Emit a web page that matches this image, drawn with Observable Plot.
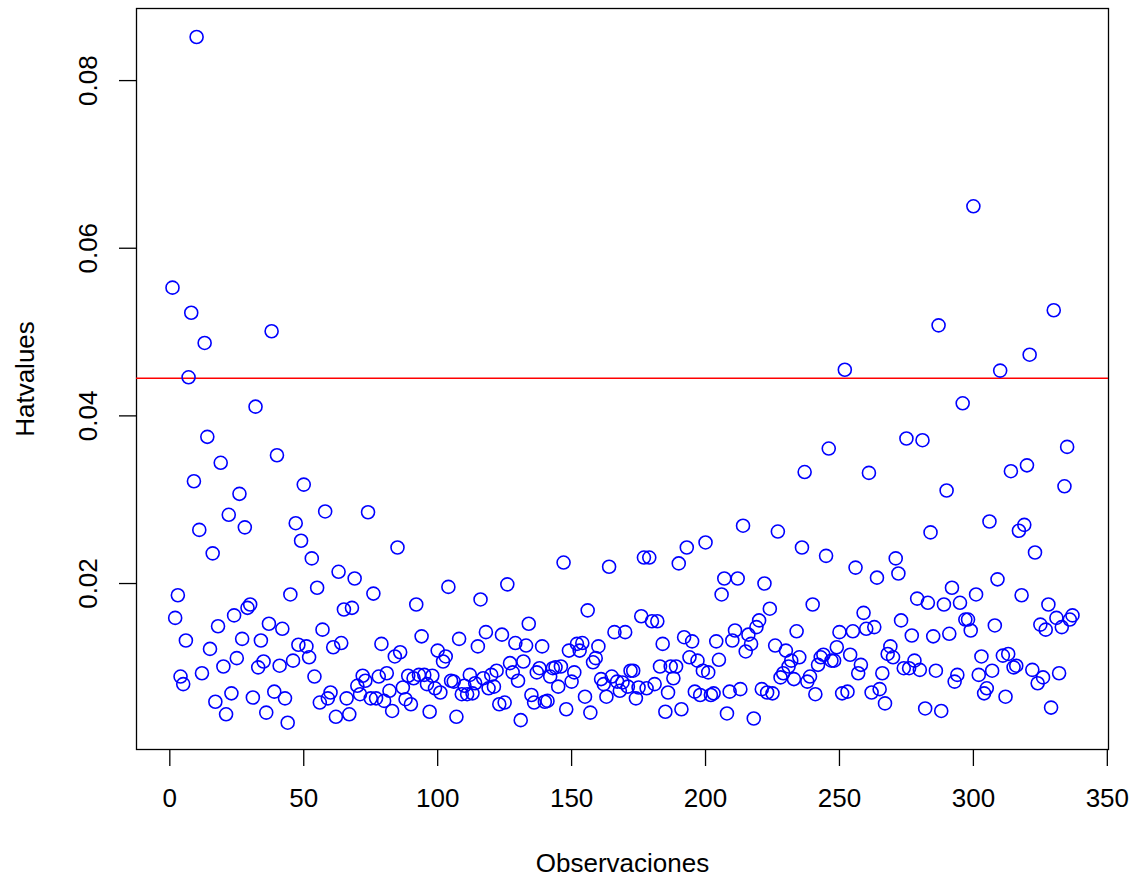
<!DOCTYPE html>
<html>
<head>
<meta charset="utf-8">
<script src="https://cdn.jsdelivr.net/npm/d3@7"></script>
<script src="https://cdn.jsdelivr.net/npm/@observablehq/plot@0.6"></script>
<style>
  html, body { margin: 0; padding: 0; background: #fff; }
  #chart svg { font-family: "Liberation Sans", Arial, Helvetica, sans-serif; background: #fff; display: block; }
</style>
</head>
<body>
<div id="chart"></div>
<script>
const hatvalues = [
  0.0553, 0.0159, 0.0186, 0.0089, 0.0080, 0.0132, 0.0446, 0.0523, 0.0322, 0.0852,
  0.0264, 0.0093, 0.0487, 0.0375, 0.0122, 0.0236, 0.0059, 0.0149, 0.0344, 0.0101,
  0.0044, 0.0282, 0.0069, 0.0162, 0.0111, 0.0307, 0.0134, 0.0267, 0.0171, 0.0175,
  0.0064, 0.0411, 0.0100, 0.0132, 0.0107, 0.0046, 0.0152, 0.0501, 0.0071, 0.0353,
  0.0102, 0.0146, 0.0063, 0.0034, 0.0187, 0.0108, 0.0272, 0.0127, 0.0251, 0.0318,
  0.0125, 0.0112, 0.0230, 0.0089, 0.0195, 0.0058, 0.0145, 0.0286, 0.0063, 0.0070,
  0.0124, 0.0041, 0.0214, 0.0129, 0.0169, 0.0063, 0.0044, 0.0171, 0.0206, 0.0078,
  0.0068, 0.0090, 0.0084, 0.0285, 0.0063, 0.0188, 0.0063, 0.0089, 0.0128, 0.0060,
  0.0093, 0.0072, 0.0048, 0.0113, 0.0243, 0.0118, 0.0076, 0.0062, 0.0090, 0.0056,
  0.0087, 0.0175, 0.0091, 0.0137, 0.0091, 0.0080, 0.0047, 0.0090, 0.0075, 0.0120,
  0.0070, 0.0107, 0.0113, 0.0196, 0.0084, 0.0083, 0.0041, 0.0134, 0.0068, 0.0078,
  0.0068, 0.0091, 0.0069, 0.0081, 0.0125, 0.0181, 0.0087, 0.0142, 0.0075, 0.0091,
  0.0077, 0.0096, 0.0056, 0.0139, 0.0058, 0.0199, 0.0105, 0.0094, 0.0129, 0.0084,
  0.0037, 0.0107, 0.0126, 0.0152, 0.0067, 0.0058, 0.0094, 0.0099, 0.0125, 0.0059,
  0.0060, 0.0089, 0.0099, 0.0100, 0.0077, 0.0101, 0.0225, 0.0050, 0.0120, 0.0083,
  0.0094, 0.0128, 0.0120, 0.0129, 0.0065, 0.0168, 0.0046, 0.0106, 0.0111, 0.0125,
  0.0086, 0.0080, 0.0065, 0.0220, 0.0089, 0.0142, 0.0083, 0.0072, 0.0082, 0.0142,
  0.0077, 0.0096, 0.0096, 0.0063, 0.0076, 0.0161, 0.0231, 0.0075, 0.0231, 0.0155,
  0.0080, 0.0155, 0.0101, 0.0128, 0.0047, 0.0070, 0.0101, 0.0087, 0.0101, 0.0224,
  0.0050, 0.0136, 0.0243, 0.0112, 0.0131, 0.0071, 0.0108, 0.0067, 0.0096, 0.0249,
  0.0094, 0.0067, 0.0069, 0.0131, 0.0109, 0.0187, 0.0206, 0.0045, 0.0071, 0.0132,
  0.0144, 0.0206, 0.0074, 0.0269, 0.0119, 0.0139, 0.0128, 0.0039, 0.0148, 0.0156,
  0.0074, 0.0200, 0.0070, 0.0170, 0.0069, 0.0126, 0.0262, 0.0088, 0.0093, 0.0120,
  0.0101, 0.0108, 0.0086, 0.0143, 0.0112, 0.0243, 0.0333, 0.0083, 0.0089, 0.0175,
  0.0068, 0.0103, 0.0112, 0.0115, 0.0233, 0.0361, 0.0108, 0.0108, 0.0124, 0.0142,
  0.0069, 0.0455, 0.0071, 0.0115, 0.0143, 0.0219, 0.0093, 0.0103, 0.0165, 0.0146,
  0.0332, 0.0070, 0.0148, 0.0207, 0.0074, 0.0093, 0.0057, 0.0116, 0.0125, 0.0112,
  0.0230, 0.0212, 0.0156, 0.0099, 0.0373, 0.0099, 0.0138, 0.0108, 0.0182, 0.0097,
  0.0371, 0.0051, 0.0177, 0.0261, 0.0137, 0.0096, 0.0508, 0.0048, 0.0175, 0.0311,
  0.0140, 0.0195, 0.0083, 0.0091, 0.0177, 0.0415, 0.0157, 0.0157, 0.0144, 0.0650,
  0.0187, 0.0091, 0.0113, 0.0069, 0.0075, 0.0274, 0.0096, 0.0150, 0.0205, 0.0454,
  0.0114, 0.0065, 0.0116, 0.0334, 0.0100, 0.0102, 0.0263, 0.0186, 0.0270, 0.0341,
  0.0473, 0.0097, 0.0237, 0.0081, 0.0151, 0.0088, 0.0145, 0.0175, 0.0052, 0.0526,
  0.0159, 0.0093, 0.0148, 0.0316, 0.0363, 0.0157, 0.0162
];
// Cut-off line (3 * p / n)
const cutoff = [0.0445];
const xTicks = [0, 50, 100, 150, 200, 250, 300, 350];
const yTicks = [0.02, 0.04, 0.06, 0.08];
const xLabel = "Observaciones";
const yLabel = "Hatvalues";

const data = hatvalues.map((v, i) => ({obs: i + 1, hat: v}));

const chart = Plot.plot({
  width: 1138,
  height: 879,
  marginLeft: 136,
  marginRight: 30,
  marginTop: 8,
  marginBottom: 130,
  style: {fontFamily: '"Liberation Sans", Arial, Helvetica, sans-serif', background: "#fff", color: "#000"},
  x: {domain: [-12.44, 350.44]},
  y: {domain: [0.0002, 0.0886]},
  marks: [
    Plot.frame({stroke: "#000", strokeWidth: 1.3}),
    Plot.axisX({ticks: xTicks, tickSize: 17, tickPadding: 22, fontSize: 26, label: null, stroke: "#000", strokeWidth: 1.3}),
    Plot.axisY({ticks: yTicks, tickSize: 17, tickFormat: () => "", label: null, stroke: "#000", strokeWidth: 1.3}),
    Plot.text(yTicks, {y: d => d, text: d => d3.format(".2f")(d), frameAnchor: "left", dx: -48, rotate: -90, fontSize: 26, textAnchor: "middle", lineAnchor: "middle"}),
    Plot.text([xLabel], {text: d => d, frameAnchor: "bottom", dy: 114, fontSize: 26, textAnchor: "middle", lineAnchor: "middle"}),
    Plot.text([yLabel], {text: d => d, frameAnchor: "left", dx: -111, rotate: -90, fontSize: 26, textAnchor: "middle", lineAnchor: "middle"}),
    Plot.ruleY(cutoff, {stroke: "#ff0000", strokeWidth: 1.5}),
    Plot.dot(data, {x: "obs", y: "hat", r: 6.5, stroke: "#0000ff", strokeWidth: 1.6, fill: "none"})
  ]
});
document.getElementById("chart").appendChild(chart);
</script>
</body>
</html>
